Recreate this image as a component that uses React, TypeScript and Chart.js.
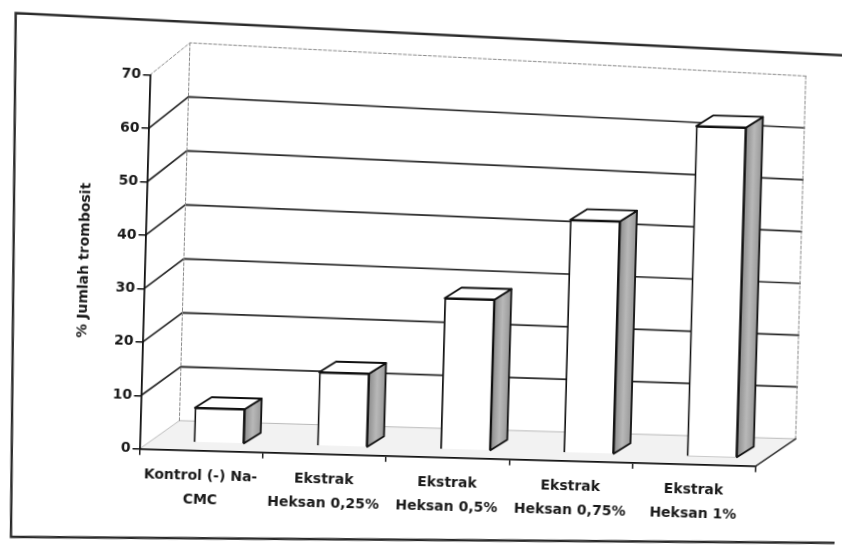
import { useEffect, useRef } from "react";
import { Chart, registerables } from "chart.js";

Chart.register(...registerables);

// ---- data ----
const categories: string[][] = [
  ["Kontrol (-) Na-", "CMC"],
  ["Ekstrak", "Heksan 0,25%"],
  ["Ekstrak", "Heksan 0,5%"],
  ["Ekstrak", "Heksan 0,75%"],
  ["Ekstrak", "Heksan 1%"],
];
const values: number[] = [6.4, 13.7, 28.2, 43.5, 61.7];
const yTicks: number[] = [0, 10, 20, 30, 40, 50, 60, 70];
const yTitle = "% Jumlah trombosit";

// ---- layout / style ----
const W = 842;
const H = 554;
const AREA = { left: 144.5, right: 761, top: 82.6, bottom: 456.7 };
const FLOOR_DX = 39;
const FLOOR_DY = -29.4;
const BAR_DX = 16.5;
const BAR_DY = -11;
const BAR_SHIFT_PX = 17.5;
const BAR_LIFT_PX = 8.5;
const FONT = "'DejaVu Sans', 'Liberation Sans', Arial, sans-serif";

const Y_MIN = yTicks[0];
const Y_MAX = yTicks[yTicks.length - 1];
const catW = (AREA.right - AREA.left) / categories.length;
const pxPerUnit = (AREA.bottom - AREA.top) / (Y_MAX - Y_MIN);
const shiftUnits = BAR_SHIFT_PX / catW;
const liftUnits = BAR_LIFT_PX / pxPerUnit;

const threeD = {
  id: "threeD",
  beforeDraw(chart: any) {
    const ctx = chart.ctx as CanvasRenderingContext2D;
    const a = chart.chartArea;
    const ys = chart.scales.y;
    const yF = (v: number) => ys.getPixelForValue(v);
    const backL = (v: number) => ({ x: a.left + FLOOR_DX, y: yF(v) + FLOOR_DY - 0.054 * v });
    const backR = (v: number) => {
      const l = backL(v);
      return { x: a.right + FLOOR_DX, y: l.y + 1 + 0.214 * v };
    };
    ctx.save();
    ctx.fillStyle = "#ffffff";
    ctx.fillRect(0, 0, W, H);

    // outer frame
    ctx.strokeStyle = "#2a2a2a";
    ctx.lineWidth = 2.4;
    ctx.beginPath();
    ctx.moveTo(852, 44);
    ctx.lineTo(8.5, 24.5);
    ctx.lineTo(18.4, 548.3);
    ctx.lineTo(852, 531);
    ctx.stroke();

    // floor
    const b0L = backL(0);
    const b0R = backR(0);
    ctx.fillStyle = "rgba(0,0,0,0.05)";
    ctx.beginPath();
    ctx.moveTo(a.left, a.bottom);
    ctx.lineTo(a.right, a.bottom);
    ctx.lineTo(b0R.x, b0R.y);
    ctx.lineTo(b0L.x, b0L.y);
    ctx.closePath();
    ctx.fill();

    // walls gridlines
    ctx.lineCap = "round";
    for (const v of yTicks) {
      const bl = backL(v);
      const br = backR(v);
      const top = v === Y_MAX;
      if (v === Y_MIN) {
        ctx.strokeStyle = "rgba(0,0,0,0.25)";
        ctx.lineWidth = 1;
        ctx.setLineDash([]);
        ctx.beginPath();
        ctx.moveTo(a.left, a.bottom);
        ctx.lineTo(bl.x, bl.y);
        ctx.lineTo(br.x, br.y);
        ctx.stroke();
        continue;
      }
      ctx.strokeStyle = top ? "#8a8a8a" : "#2a2a2a";
      ctx.lineWidth = top ? 1 : 1.7;
      ctx.setLineDash(top ? [3, 2] : []);
      ctx.beginPath();
      ctx.moveTo(a.left, yF(v));
      ctx.lineTo(bl.x, bl.y);
      ctx.lineTo(br.x, br.y);
      ctx.stroke();
    }
    // back wall vertical edges (dashed)
    ctx.strokeStyle = "#8a8a8a";
    ctx.lineWidth = 1;
    ctx.setLineDash([3, 2]);
    const tl = backL(Y_MAX);
    const tr = backR(Y_MAX);
    ctx.beginPath();
    ctx.moveTo(tl.x, tl.y);
    ctx.lineTo(b0L.x, b0L.y);
    ctx.moveTo(tr.x, tr.y);
    ctx.lineTo(b0R.x, b0R.y);
    ctx.stroke();
    // floor right edge
    ctx.setLineDash([]);
    ctx.strokeStyle = "#333333";
    ctx.lineWidth = 1.5;
    ctx.beginPath();
    ctx.moveTo(a.right, a.bottom);
    ctx.lineTo(b0R.x, b0R.y);
    ctx.stroke();
    ctx.restore();
  },
  afterDatasetsDraw(chart: any) {
    const ctx = chart.ctx as CanvasRenderingContext2D;
    const meta = chart.getDatasetMeta(0);
    ctx.save();
    ctx.lineJoin = "round";
    ctx.lineWidth = 1.8;
    ctx.strokeStyle = "#111111";
    for (const el of meta.data as any[]) {
      const { x, y, base, width } = el.getProps(["x", "y", "base", "width"], true);
      const l = x - width / 2;
      const r = x + width / 2;
      // side face
      const g = ctx.createLinearGradient(r, 0, r + BAR_DX, 0);
      g.addColorStop(0, "#8c8c8c");
      g.addColorStop(0.5, "#b8b8b8");
      g.addColorStop(1, "#989898");
      ctx.fillStyle = g;
      ctx.beginPath();
      ctx.moveTo(r, y);
      ctx.lineTo(r + BAR_DX, y + BAR_DY);
      ctx.lineTo(r + BAR_DX, base + BAR_DY);
      ctx.lineTo(r, base);
      ctx.closePath();
      ctx.fill();
      ctx.stroke();
      // top face
      ctx.fillStyle = "#ffffff";
      ctx.beginPath();
      ctx.moveTo(l, y);
      ctx.lineTo(l + BAR_DX, y + BAR_DY);
      ctx.lineTo(r + BAR_DX, y + BAR_DY);
      ctx.lineTo(r, y);
      ctx.closePath();
      ctx.fill();
      ctx.stroke();
    }
    ctx.restore();
  },
};

export default function App() {
  const ref = useRef<HTMLCanvasElement | null>(null);
  useEffect(() => {
    if (!ref.current) return;
    const chart = new Chart(ref.current, {
      type: "bar",
      data: {
        labels: categories as any,
        datasets: [
          {
            data: values.map((v, i) => ({ x: i, y: v })) as any,
            xAxisID: "xb",
            yAxisID: "yb",
            backgroundColor: "#ffffff",
            borderColor: "#111111",
            borderWidth: 1.8,
            barThickness: 50,
          },
        ],
      },
      plugins: [threeD],
      options: {
        animation: false,
        responsive: false,
        devicePixelRatio: 1,
        layout: {
          padding: { left: 0, top: AREA.top, right: W - AREA.right, bottom: 0 },
        },
        plugins: {
          legend: { display: false },
          tooltip: { enabled: false },
          title: { display: false },
        },
        scales: {
          x: {
            type: "category",
            position: "bottom",
            offset: true,
            grid: {
              offset: true,
              drawOnChartArea: false,
              drawTicks: true,
              tickLength: 6,
              color: "#222222",
              lineWidth: 1.5,
            },
            border: { display: true, color: "#111111", width: 1.8 },
            ticks: {
              color: "#1a1a1a",
              font: { family: FONT, size: 14, weight: "bold", lineHeight: 1.75 },
              padding: 7,
              maxRotation: 0,
              autoSkip: false,
            },
            afterFit: (s: any) => {
              s.height = H - AREA.bottom;
            },
          },
          xb: {
            type: "linear",
            display: false,
            offset: false,
            min: -0.5 - shiftUnits,
            max: categories.length - 0.5 - shiftUnits,
          },
          y: {
            type: "linear",
            position: "left",
            min: Y_MIN,
            max: Y_MAX,
            afterBuildTicks: (s: any) => {
              s.ticks = yTicks.map((v) => ({ value: v }));
            },
            grid: {
              drawOnChartArea: false,
              drawTicks: true,
              tickLength: 7,
              color: "#111111",
              lineWidth: 1.5,
            },
            border: { display: true, color: "#111111", width: 1.8 },
            ticks: {
              color: "#1a1a1a",
              font: { family: FONT, size: 14, weight: "bold" },
              padding: 2,
            },
            title: {
              display: true,
              text: yTitle,
              color: "#1a1a1a",
              font: { family: FONT, size: 14, weight: "bold" },
              padding: { top: 76, bottom: 0 },
            },
            afterFit: (s: any) => {
              s.width = AREA.left;
            },
          },
          yb: {
            type: "linear",
            display: false,
            min: Y_MIN - liftUnits,
            max: Y_MAX - liftUnits,
          },
        },
      } as any,
    });
    return () => chart.destroy();
  }, []);
  return (
    <div
      style={{
        position: "fixed",
        left: 0,
        top: 0,
        width: W,
        height: H,
        background: "#ffffff",
        transform: "rotate(1.6deg)",
        transformOrigin: `${W / 2}px ${H / 2}px`,
      }}
    >
      <canvas ref={ref} width={W} height={H} style={{ display: "block", width: W, height: H }} />
    </div>
  );
}
